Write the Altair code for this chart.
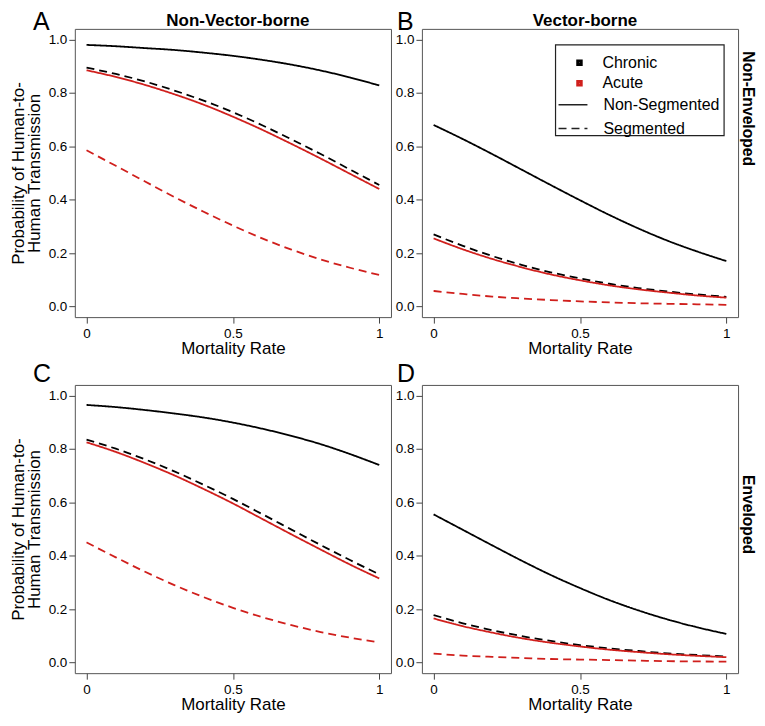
import altair as alt
import pandas as pd

# ---------------- data ----------------
mortality = [0.0, 0.1, 0.2, 0.3, 0.4, 0.5, 0.6, 0.7, 0.8, 0.9, 1.0]

# Panel A: Non-Vector-borne, Non-Enveloped
A_chronic_nonseg = [0.980, 0.975, 0.968, 0.961, 0.951, 0.939, 0.924, 0.906, 0.884, 0.858, 0.828]
A_chronic_seg    = [0.895, 0.871, 0.843, 0.809, 0.771, 0.728, 0.679, 0.626, 0.571, 0.513, 0.455]
A_acute_nonseg   = [0.885, 0.860, 0.830, 0.795, 0.756, 0.711, 0.662, 0.609, 0.554, 0.497, 0.440]
A_acute_seg      = [0.585, 0.527, 0.468, 0.410, 0.355, 0.303, 0.255, 0.213, 0.176, 0.145, 0.118]

# Panel B: Vector-borne, Non-Enveloped
B_chronic_nonseg = [0.680, 0.627, 0.571, 0.513, 0.455, 0.398, 0.343, 0.292, 0.246, 0.206, 0.170]
B_chronic_seg    = [0.270, 0.227, 0.189, 0.156, 0.128, 0.105, 0.085, 0.069, 0.056, 0.045, 0.036]
B_acute_nonseg   = [0.255, 0.214, 0.178, 0.147, 0.120, 0.098, 0.079, 0.064, 0.052, 0.041, 0.033]
B_acute_seg      = [0.058, 0.047, 0.037, 0.030, 0.024, 0.019, 0.015, 0.012, 0.010, 0.008, 0.006]

# Panel C: Non-Vector-borne, Enveloped
C_chronic_nonseg = [0.965, 0.957, 0.946, 0.933, 0.918, 0.899, 0.876, 0.849, 0.818, 0.781, 0.740]
C_chronic_seg    = [0.835, 0.801, 0.761, 0.716, 0.666, 0.613, 0.556, 0.498, 0.440, 0.384, 0.330]
C_acute_nonseg   = [0.825, 0.789, 0.747, 0.701, 0.650, 0.596, 0.538, 0.480, 0.423, 0.367, 0.315]
C_acute_seg      = [0.450, 0.394, 0.340, 0.290, 0.245, 0.205, 0.170, 0.140, 0.114, 0.093, 0.075]

# Panel D: Vector-borne, Enveloped
D_chronic_nonseg = [0.555, 0.497, 0.439, 0.382, 0.328, 0.279, 0.234, 0.195, 0.161, 0.132, 0.107]
D_chronic_seg    = [0.178, 0.147, 0.121, 0.099, 0.081, 0.065, 0.053, 0.043, 0.034, 0.028, 0.022]
D_acute_nonseg   = [0.165, 0.136, 0.112, 0.091, 0.074, 0.060, 0.048, 0.039, 0.031, 0.025, 0.020]
D_acute_seg      = [0.033, 0.026, 0.021, 0.017, 0.013, 0.011, 0.009, 0.007, 0.005, 0.004, 0.003]

infection_types = ["Chronic", "Acute"]
segment_types = ["Non-Segmented", "Segmented"]
column_titles = ["Non-Vector-borne", "Vector-borne"]
row_titles = ["Non-Enveloped", "Enveloped"]
x_ticks = [0, 0.5, 1]
y_ticks = [0.0, 0.2, 0.4, 0.6, 0.8, 1.0]

series = {
    "A": [A_chronic_nonseg, A_chronic_seg, A_acute_nonseg, A_acute_seg],
    "B": [B_chronic_nonseg, B_chronic_seg, B_acute_nonseg, B_acute_seg],
    "C": [C_chronic_nonseg, C_chronic_seg, C_acute_nonseg, C_acute_seg],
    "D": [D_chronic_nonseg, D_chronic_seg, D_acute_nonseg, D_acute_seg],
}
combos = [("Chronic", "Non-Segmented"), ("Chronic", "Segmented"),
          ("Acute", "Non-Segmented"), ("Acute", "Segmented")]

rows = []
for key, lists in series.items():
    for (t, s), vals in zip(combos, lists):
        for xv, yv in zip(mortality, vals):
            rows.append({"panel": key, "x": xv, "p": yv, "type": t, "seg": s})
df = pd.DataFrame(rows)

# ---------------- styling ----------------
FONT = "Liberation Sans"
RED = "#d01f1c"
W, H = 317, 289

color_scale = alt.Scale(domain=infection_types, range=["black", RED])
dash_scale = alt.Scale(domain=segment_types, range=[[1, 0], [8, 5]])


def text_layer(txt, x, y, size, weight="normal", angle=0, align="left",
               baseline="alphabetic"):
    mk = dict(font=FONT, fontSize=size, fontWeight=weight, align=align,
              baseline=baseline, color="black")
    if angle:
        mk["angle"] = angle
    return alt.Chart(pd.DataFrame({"t": [txt]})).mark_text(**mk).encode(
        text="t:N", x=alt.value(x), y=alt.value(y))


def panel(key, col_title=None, row_title=None, show_ytitle=False, legend=False,
          letter_pos=(-42, 1), row_y=0):
    d = df[df["panel"] == key]
    if legend:
        color_leg = alt.Legend(orient="none", legendX=150, legendY=26, title=None,
                               symbolType="square", symbolSize=12, symbolStrokeWidth=3,
                               labelFontSize=16, labelFont=FONT, labelColor="black",
                               labelOffset=15, rowPadding=4.5, padding=0)
        dash_leg = alt.Legend(orient="none", legendX=136, legendY=60.5, title=None,
                              symbolType="stroke", symbolSize=841, symbolStrokeWidth=1.5,
                              symbolStrokeColor="#222",
                              labelFontSize=16, labelFont=FONT, labelColor="black",
                              labelOffset=15, rowPadding=-8.5, padding=0)
    else:
        color_leg = None
        dash_leg = None

    ytitle = ["Probability of Human-to-", "Human Transmission"] if show_ytitle else None

    lines = alt.Chart(d).mark_line(strokeWidth=1.8, interpolate="monotone").encode(
        x=alt.X("x:Q",
                scale=alt.Scale(domain=[-0.04, 1.04], nice=False, zero=False),
                axis=alt.Axis(values=x_ticks, labelExpr="toString(datum.value)",
                              title="Mortality Rate", titlePadding=1, labelPadding=3)),
        y=alt.Y("p:Q",
                scale=alt.Scale(domain=[-0.04, 1.04], nice=False, zero=False),
                axis=alt.Axis(values=y_ticks, format=".1f", title=ytitle,
                              titlePadding=5, titleLineHeight=16)),
        color=alt.Color("type:N", scale=color_scale, legend=color_leg),
        strokeDash=alt.StrokeDash("seg:N", scale=dash_scale, legend=dash_leg),
    )

    layers = [lines, text_layer(key, letter_pos[0], letter_pos[1], 25)]

    if col_title:
        layers.append(text_layer(col_title, W / 2 + 5, -3, 17, weight="bold",
                                 align="center"))

    if legend:
        box = alt.Chart(pd.DataFrame({"b": [1]})).mark_rect(
            fill="white", fillOpacity=0, stroke="#222", strokeWidth=1.2
        ).encode(x=alt.value(134), x2=alt.value(303), y=alt.value(16), y2=alt.value(107))
        layers.append(box)

    if row_title:
        layers.append(text_layer(row_title, W + 10, row_y, 15.7, weight="bold",
                                 angle=90, align="center", baseline="middle"))

    return alt.layer(*layers).properties(width=W, height=H)


pA = panel("A", col_title=column_titles[0], show_ytitle=True, letter_pos=(-42, 1))
pB = panel("B", col_title=column_titles[1], row_title=row_titles[0], legend=True,
           letter_pos=(-25, 1), row_y=80)
pC = panel("C", show_ytitle=True, letter_pos=(-42, -3))
pD = panel("D", row_title=row_titles[1], letter_pos=(-25, -3), row_y=130)

chart = alt.concat(pA, pB, pC, pD, columns=2,
                   spacing={"row": 68, "column": 31}, bounds="flush").resolve_scale(
    color="independent", strokeDash="independent"
).properties(padding=0).configure_view(
    stroke="#555", strokeWidth=1
).configure_axis(
    grid=False, domain=False, ticks=True, tickSize=6, tickColor="#444",
    labelFont=FONT, labelFontSize=13.5, labelColor="black", labelPadding=2,
    titleFont=FONT, titleFontSize=17, titleFontWeight="normal", titleColor="black"
)

chart.save("out.html", embed_options={"renderer": "svg", "actions": False})
